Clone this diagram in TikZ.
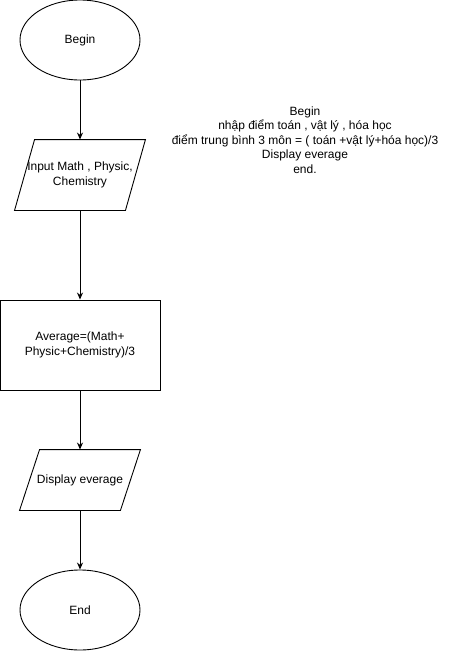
\documentclass[tikz,border=0pt]{standalone}
\usepackage{fontspec}
\setmainfont{Liberation Sans}
\usetikzlibrary{shapes.geometric,calc,arrows.meta}

\tikzset{
    terminal/.style={draw, ellipse, minimum width=120pt, minimum height=80pt, inner sep=0pt},
    iobox/.style={inner sep=0pt, align=center},
    process/.style={draw, rectangle, minimum width=160pt, minimum height=90pt, inner sep=0pt, align=center},
    flow/.style={-{Stealth[length=7pt,width=6pt]}, line width=0.9pt}
}

\begin{document}
\begin{tikzpicture}[x=1pt, y=-1pt, line width=0.9pt, font=\fontsize{12}{14.5}\selectfont]
    \useasboundingbox (0,0) rectangle (451,651);

    % Flowchart nodes
    \node[terminal] (begin) at (80,40) {Begin};
    \node[iobox, minimum width=110pt, minimum height=70pt] (input) at (80,175) {Input Math , Physic,\\Chemistry};
    \node[process] (average) at (80,345) {Average=(Math+\\Physic+Chemistry)/3};
    \node[iobox, minimum width=100pt, minimum height=60pt] (display) at (80,480) {Display everage};
    \node[terminal] (end) at (80,610) {End};

    % Parallelogram outlines
    \draw ($(input.north west)+(10,0)$) -- ($(input.north east)+(10,0)$)
        -- ($(input.south east)+(-10,0)$) -- ($(input.south west)+(-10,0)$) -- cycle;
    \draw ($(display.north west)+(10,0)$) -- ($(display.north east)+(10,0)$)
        -- ($(display.south east)+(-10,0)$) -- ($(display.south west)+(-10,0)$) -- cycle;

    % Connectors
    \draw[flow] (begin) -- (input);
    \draw[flow] (input) -- (average);
    \draw[flow] (average) -- (display);
    \draw[flow] (display) -- (end);

    % Pseudocode
    \node[align=center] (pseudo) at (305,140) {Begin\\
        nhập điểm toán , vật lý , hóa học\\
        điểm trung bình 3 môn = ( toán +vật lý+hóa học)/3\\
        Display everage\\
        end.};
\end{tikzpicture}
\end{document}
